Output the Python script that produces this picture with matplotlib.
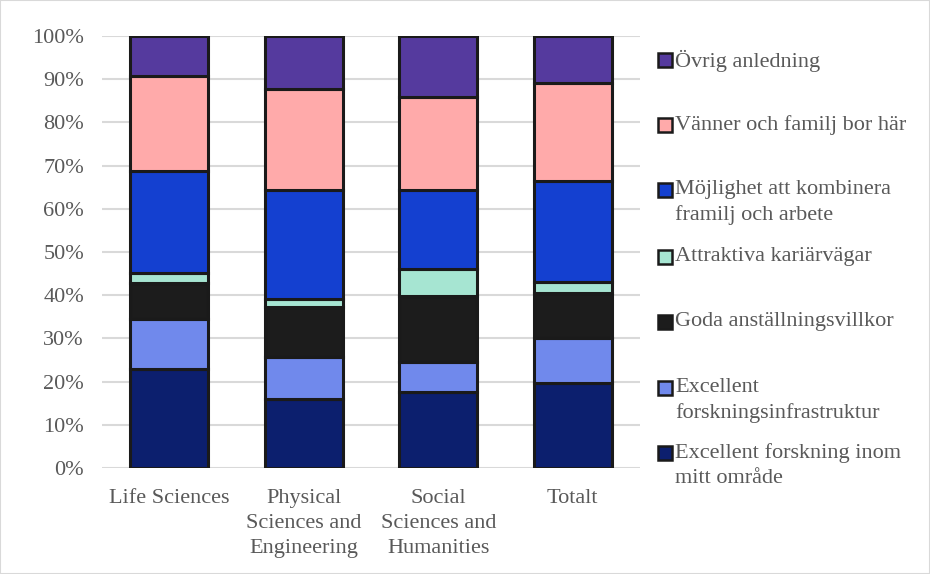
import matplotlib

matplotlib.use("Agg")
import matplotlib.pyplot as plt
import numpy as np
from matplotlib.patches import Rectangle

plt.rcParams["font.family"] = ["Liberation Serif", "DejaVu Serif"]

CATEGORIES = [
    "Life Sciences",
    "Physical\nSciences and\nEngineering",
    "Social\nSciences and\nHumanities",
    "Totalt",
]

# shares in percent, bottom segment first
EXCELLENT_FORSKNING = [23.0, 15.9, 17.6, 19.6]
INFRASTRUKTUR = [11.6, 9.7, 6.9, 10.4]
ANSTALLNING = [8.3, 11.7, 15.2, 10.6]
KARRIAR = [2.3, 1.9, 6.3, 2.4]
FAMILJ_ARBETE = [23.5, 25.1, 18.3, 23.4]
VANNER = [22.1, 23.5, 21.5, 22.7]
OVRIGT = [9.2, 12.2, 14.2, 10.9]

LABELS = [
    "Excellent forskning inom\nmitt område",
    "Excellent\nforskningsinfrastruktur",
    "Goda anställningsvillkor",
    "Attraktiva kariärvägar",
    "Möjlighet att kombinera\nframilj och arbete",
    "Vänner och familj bor här",
    "Övrig anledning",
]
COLORS = ["#0c1f6e", "#7089ec", "#1c1c1c", "#a6e5d2", "#1440d0", "#ffaaaa", "#553a9e"]

series = [EXCELLENT_FORSKNING, INFRASTRUKTUR, ANSTALLNING, KARRIAR,
          FAMILJ_ARBETE, VANNER, OVRIGT]

FONT_SIZE = 16
TEXT_COLOR = "#595959"

fig = plt.figure(figsize=(9.3, 5.74), dpi=100)
ax = fig.add_axes([102 / 930, 106 / 574, 538 / 930, 432 / 574])

x = np.arange(len(CATEGORIES))
bottom = np.zeros(len(CATEGORIES))
for values, color in zip(series, COLORS):
    ax.bar(x, values, bottom=bottom, width=0.58, color=color,
           edgecolor="#1a1a1a", linewidth=2.2, zorder=3)
    bottom += np.array(values)

ax.set_xlim(-0.5, len(CATEGORIES) - 0.5)
ax.set_ylim(0, 100)
ax.set_yticks(np.arange(0, 101, 10))
ax.set_yticklabels([f"{v}%" for v in range(0, 101, 10)])
ax.set_xticks(x)
ax.set_xticklabels(CATEGORIES, linespacing=1.45)
ax.tick_params(axis="both", length=0, labelsize=FONT_SIZE, colors=TEXT_COLOR)
ax.tick_params(axis="y", pad=13)
ax.tick_params(axis="x", pad=15)
ax.grid(axis="y", color="#d9d9d9", linewidth=1.5, zorder=0)
for spine in ax.spines.values():
    spine.set_visible(False)

# legend drawn by hand so the marker sits on the first text line
legend_y = [453, 388, 322, 257, 190, 125, 60]
for label, color, y in zip(LABELS, COLORS, legend_y):
    fig.add_artist(Rectangle((658 / 930, (574 - y - 7) / 574), 14 / 930, 14 / 574,
                             transform=fig.transFigure, facecolor=color,
                             edgecolor="#1a1a1a", linewidth=1.8))
    fig.text(675 / 930, (574 - y + 10) / 574, label, fontsize=FONT_SIZE,
             color=TEXT_COLOR, va="top", ha="left", linespacing=1.42)

fig.add_artist(Rectangle((0, 0), 1, 1, transform=fig.transFigure, fill=False,
                         edgecolor="#d9d9d9", linewidth=1.5))

fig.savefig("out.png", dpi=100)
